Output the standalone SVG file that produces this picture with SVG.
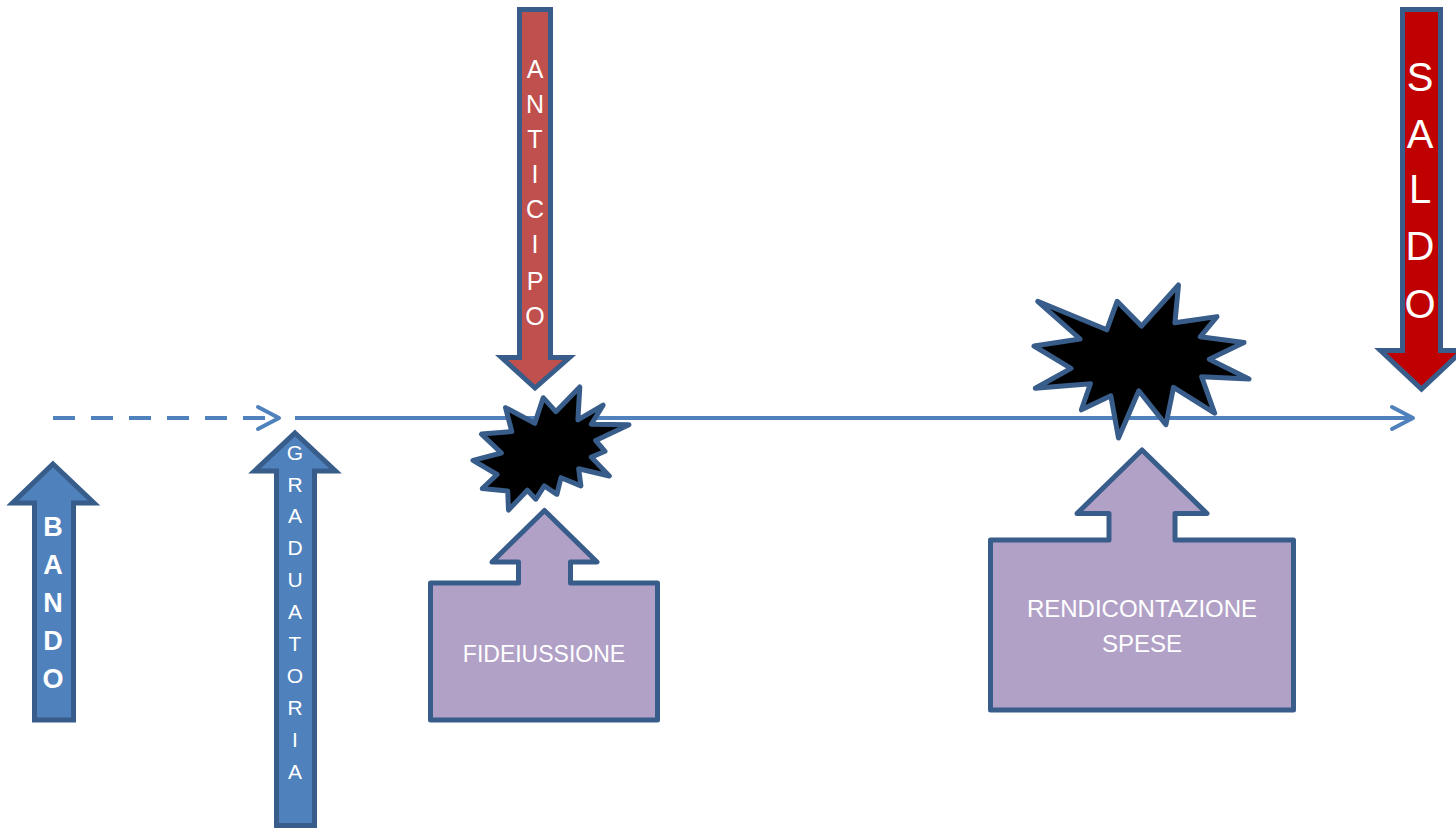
<svg xmlns="http://www.w3.org/2000/svg" width="1456" height="829" viewBox="0 0 1456 829">
<style>
.arr{stroke:#385D8A;stroke-width:5;stroke-linejoin:miter;stroke-miterlimit:10}
.blue{fill:#4F81BD}
.red{fill:#C0504D}
.dred{fill:#C00000}
.call{fill:#B2A1C7;stroke:#385D8A;stroke-width:5;stroke-linejoin:round}
.star{fill:#000000;stroke:#385D8A;stroke-width:5;stroke-linejoin:round}
.line{fill:none;stroke:#4F81BD;stroke-width:4}
.head{fill:none;stroke:#4F81BD;stroke-width:4;stroke-linecap:round;stroke-linejoin:round}
text{font-family:"Liberation Sans",Arial,sans-serif;fill:#FFFFFF;text-anchor:middle}
.b{font-size:27px;font-weight:bold}
.g{font-size:21px}
.a{font-size:25px}
.s{font-size:40px}
.c{font-size:23px}
.r{font-size:24px}
</style>
<rect width="1456" height="829" fill="#FFFFFF"/>
<g id="connectors">
<line class="line" x1="53" y1="418" x2="277" y2="418" stroke-dasharray="22 16"/>
<polyline class="head" points="258,407 279,418 258,429"/>
<line class="line" x1="295" y1="418" x2="1411" y2="418"/>
<polyline class="head" points="1392,407 1413,418 1392,429"/>
</g>
<g id="bando">
<path class="arr blue" d="M53,464 L94,503 L73.5,503 L73.5,720 L34.5,720 L34.5,503 L12.5,503 Z"/>
<text class="b" x="53" y="536">B</text>
<text class="b" x="53" y="574">A</text>
<text class="b" x="53" y="612">N</text>
<text class="b" x="53" y="650">D</text>
<text class="b" x="53" y="688">O</text>
</g>
<g id="graduatoria">
<path class="arr blue" d="M295,433 L335.5,471 L314.5,471 L314.5,825.5 L276.5,825.5 L276.5,471 L254.5,471 Z"/>
<text class="g" x="295" y="460">G</text>
<text class="g" x="295" y="492">R</text>
<text class="g" x="295" y="523">A</text>
<text class="g" x="295" y="555">D</text>
<text class="g" x="295" y="587">U</text>
<text class="g" x="295" y="619">A</text>
<text class="g" x="295" y="651">T</text>
<text class="g" x="295" y="683">O</text>
<text class="g" x="295" y="715">R</text>
<text class="g" x="295" y="747">I</text>
<text class="g" x="295" y="779">A</text>
</g>
<g id="anticipo">
<path class="arr red" d="M519.5,9.5 L550.5,9.5 L550.5,357.5 L569.5,357.5 L535,388 L501.5,357.5 L519.5,357.5 Z"/>
<text class="a" x="535" y="78">A</text>
<text class="a" x="535" y="113">N</text>
<text class="a" x="535" y="148">T</text>
<text class="a" x="535" y="183">I</text>
<text class="a" x="535" y="218">C</text>
<text class="a" x="535" y="253">I</text>
<text class="a" x="535" y="290">P</text>
<text class="a" x="535" y="325">O</text>
</g>
<g id="saldo">
<path class="arr dred" d="M1402.5,9.5 L1440.5,9.5 L1440.5,350.5 L1462.5,350.5 L1421.5,389 L1380.5,350.5 L1402.5,350.5 Z"/>
<text class="s" x="1420" y="91">S</text>
<text class="s" x="1420" y="148">A</text>
<text class="s" x="1420" y="203">L</text>
<text class="s" x="1420" y="260">D</text>
<text class="s" x="1420" y="318">O</text>
</g>
<g id="star-small">
<path class="star" d="M555.8,411.7 L579.8,387 L577.9,419.9 L603.1,405.1 L591.3,424.2 L629,424.8 L595.7,440.5 L605,451.3 L591.3,457.1 L609.3,476 L578.7,468.7 L580.9,485.9 L561,477.7 L556.9,494.3 L544.3,485.9 L535.8,499.2 L527.4,490.2 L508.5,510 L507.7,490.9 L482.3,488.5 L497.1,474.5 L473,460.3 L501.4,453 L481.5,434.1 L511.8,431.5 L505.5,407.6 L534.8,423.3 L543.2,397.7 Z"/>
</g>
<g id="star-big">
<path class="star" d="M1141.5,326.1 L1178.5,285 L1174.9,322.7 L1217,316.6 L1200.2,336.8 L1244,342.6 L1209.3,359.2 L1249,379.1 L1201.6,376.7 L1214.6,413.2 L1173.5,387.4 L1165.9,424.8 L1138.8,390.8 L1118.5,438 L1110.8,395.7 L1081.4,409.8 L1090.4,383.7 L1035.3,388.3 L1071,368.4 L1034,346 L1080.1,339 L1037.7,301.3 L1106.8,329.8 L1117.1,301.3 Z"/>
</g>
<g id="fideiussione">
<path class="call" d="M430.5,583 L518.5,583 L518.5,562 L492,562 L544.5,510.5 L597,562 L570.5,562 L570.5,583 L657.5,583 L657.5,720 L430.5,720 Z"/>
<text class="c" x="544" y="662">FIDEIUSSIONE</text>
</g>
<g id="rendicontazione">
<path class="call" d="M990.5,540 L1109,540 L1109,513.5 L1077,513.5 L1142,450 L1207,513.5 L1175,513.5 L1175,540 L1293.5,540 L1293.5,710 L990.5,710 Z"/>
<text class="r" x="1142" y="617">RENDICONTAZIONE</text>
<text class="r" x="1142" y="652">SPESE</text>
</g>
</svg>
